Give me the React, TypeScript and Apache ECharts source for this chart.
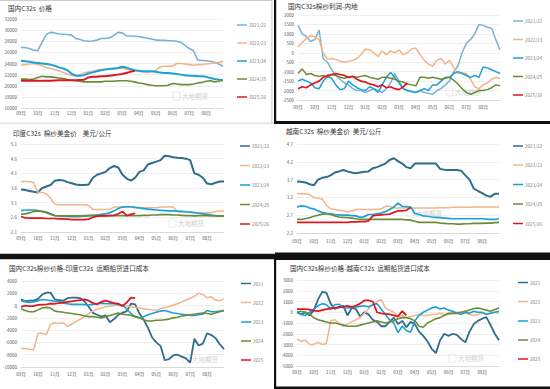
import React, { useEffect, useRef } from "react";
import * as echarts from "echarts";

const MONTHS = ["09月", "10月", "11月", "12月", "01月", "02月", "03月", "04月", "05月", "06月", "07月", "08月"];
const SEASONS = ["2021/22", "2022/23", "2023/24", "2024/25", "2025/26"];
const YEARS = ["2021", "2022", "2023", "2024", "2025"];

// Panel 1: 国内C32s 价格 (quarter-month steps from 09月)
const p1_2122 = [26900, 26850, 26700, 26400, 26300, 27800, 29200, 29600, 29500, 29300, 29250, 29200, 29100, 28500, 28300, 28100, 28000, 28050, 28200, 28500, 28500, 28600, 29000, 29600, 29500, 29000, 28950, 28900, 28850, 28700, 28550, 28400, 28250, 28150, 28150, 28100, 28100, 28000, 27800, 27200, 26700, 26300, 24600, 24550, 24500, 24400, 24200, 23900, 23500];
const p1_2223 = [23700, 23800, 23900, 24000, 23800, 23600, 23300, 23100, 22900, 22700, 22400, 22100, 21900, 21800, 22000, 22300, 22500, 22600, 22800, 22900, 23000, 23000, 23000, 23100, 23100, 23000, 22800, 22700, 22600, 22500, 22400, 22500, 22700, 23400, 23500, 23500, 23500, 24000, 24000, 23900, 23800, 23700, 23800, 23800, 23900, 24000, 24100, 24200, 24400];
const p1_2324 = [24500, 24400, 24300, 24200, 24100, 24000, 23900, 23800, 23600, 23300, 23100, 22800, 22200, 21800, 21800, 21900, 22200, 22400, 22600, 22800, 22900, 23000, 23100, 23200, 23400, 23300, 23000, 22800, 22700, 22600, 22600, 22600, 22500, 22400, 22300, 22300, 22200, 22100, 22000, 21900, 21800, 21800, 21700, 21700, 21600, 21400, 21200, 21100, 21000];
const p1_2425 = [21200, 21200, 21100, 21200, 21500, 21700, 21600, 21600, 21500, 21400, 21300, 21100, 21000, 20900, 20800, 20700, 20700, 20700, 20700, 20700, 20800, 20800, 20800, 20900, 20900, 20900, 20800, 20700, 20500, 20400, 20200, 20100, 20000, 20000, 20000, 20100, 20400, 20300, 20200, 20200, 20200, 20300, 20500, 20600, 20800, 20900, 20700, 20800, 21000];
const p1_2526 = [20900, 20900, 20900, 20900, 20900, 20900, 20900, 20900, 20950, 21000, 21000, 21000, 21000, 21000, 21050, 21100, 21500, 21600, 21600, 21700, 21700, 21800, 21900, 22000, 22100, 22300, 22500, 22700];

// Panel 2: 国内C32s棉纱利润-内地
const p2_2122 = [1450, 1000, 850, 600, 700, 1200, -300, -500, -900, -1200, -1400, -1600, -1700, -1900, -2000, -2000, -2100, -2000, -1900, -2000, -2100, -1900, -1600, -1100, -1500, -1900, -2000, -2050, -2100, -2000, -2100, -2150, -2200, -2000, -1900, -1700, -1500, -1000, -700, 0, 500, 700, 1000, 1500, 1450, 1350, 1300, 700, 150];
const p2_2223 = [300, 550, 750, 900, 850, 700, 0, -350, -300, -350, -450, -500, -450, -400, -300, -100, 200, 150, 0, -200, 100, -100, 100, 0, 150, -100, 0, 200, 250, -100, -400, -600, -700, -400, -300, -600, -400, -800, -1100, -1050, -1100, -1400, -1800, -1900, -1700, -1600, -1400, -1300, -1350];
const p2_2324 = [-1500, -1400, -1500, -1600, -1850, -1900, -1500, -1250, -1350, -1700, -1950, -1900, -1500, -1700, -1850, -1950, -2000, -1800, -1900, -2100, -1700, -1300, -1050, -1300, -1600, -1900, -2000, -2050, -2100, -2000, -1900, -2000, -1700, -1700, -1500, -1300, -1300, -1100, -1000, -1100, -1200, -1300, -1200, -1300, -750, -800, -900, -1000, -1100];
const p2_2425 = [-1100, -850, -1150, -1100, -1200, -1250, -1200, -1300, -1150, -1200, -1300, -1350, -1300, -1250, -1300, -1250, -1200, -1300, -1350, -1400, -1300, -1300, -1350, -1400, -1500, -1550, -1650, -1700, -1750, -1300, -1300, -1350, -1300, -1350, -1400, -1350, -1300, -1450, -1650, -1900, -2100, -2200, -2100, -2000, -2000, -1950, -1850, -1700, -1750];
const p2_2526 = [-1900, -1800, -1850, -1700, -1600, -1500, -1300, -1200, -1150, -1100, -1150, -1200, -1300, -1250, -1400, -1500, -1550, -1650, -1700, -1800, -1700, -1850, -1800, -1900, -1950, -1800, -1600];

// Panel 3: 印度C32s 棉纱美金价 美元/公斤
const p3_2122 = [3.55, 3.53, 3.5, 3.47, 3.45, 3.6, 3.65, 3.7, 3.85, 3.87, 3.86, 3.8, 3.76, 3.72, 3.7, 3.7, 3.72, 3.95, 4.05, 4.1, 4.15, 4.28, 4.35, 4.3, 4.05, 3.92, 3.85, 3.95, 4.15, 4.2, 4.4, 4.45, 4.5, 4.55, 4.7, 4.68, 4.65, 4.63, 4.62, 4.6, 4.55, 4.1, 4.05, 3.95, 3.75, 3.73, 3.78, 3.82, 3.82];
const p3_2223 = [3.82, 3.82, 3.82, 3.78, 3.45, 3.45, 3.4, 3.25, 3.05, 3.03, 3.03, 3.03, 3.03, 3.03, 3.03, 3.03, 3.0, 2.87, 2.87, 2.87, 2.87, 2.87, 2.95, 2.95, 2.95, 2.95, 2.95, 2.93, 2.93, 2.93, 2.93, 2.93, 2.93, 2.95, 2.95, 2.95, 2.95, 2.78, 2.78, 2.78, 2.78, 2.76, 2.76, 2.76, 2.76, 2.76, 2.8, 2.82, 2.82];
const p3_2324 = [2.83, 2.85, 2.85, 2.85, 2.83, 2.8, 2.78, 2.72, 2.66, 2.65, 2.64, 2.63, 2.62, 2.62, 2.63, 2.64, 2.66, 2.68, 2.68, 2.7, 2.72, 2.76, 2.82, 2.9, 2.95, 2.96, 2.96, 2.94, 2.92, 2.9, 2.88, 2.86, 2.85, 2.84, 2.83, 2.82, 2.82, 2.81, 2.8, 2.79, 2.78, 2.76, 2.74, 2.72, 2.7, 2.68, 2.66, 2.65, 2.65];
const p3_2425 = [2.7, 2.72, 2.75, 2.8, 2.82, 2.8, 2.76, 2.7, 2.66, 2.65, 2.65, 2.65, 2.65, 2.65, 2.65, 2.66, 2.66, 2.65, 2.65, 2.66, 2.66, 2.66, 2.66, 2.66, 2.66, 2.66, 2.66, 2.66, 2.66, 2.67, 2.67, 2.68, 2.68, 2.69, 2.69, 2.69, 2.68, 2.68, 2.67, 2.66, 2.66, 2.65, 2.66, 2.66, 2.66, 2.65, 2.65, 2.64, 2.64];
const p3_2526 = [2.63, 2.58, 2.57, 2.57, 2.57, 2.57, 2.56, 2.56, 2.56, 2.55, 2.55, 2.54, 2.52, 2.52, 2.52, 2.52, 2.54, 2.6, 2.64, 2.65, 2.65, 2.66, 2.67, 2.72, 2.8, 2.66, 2.7, 2.74];

// Panel 4: 越南C32s 棉纱美金价 美元/公斤
const p4_2122 = [3.65, 3.64, 3.62, 3.57, 3.54, 3.7, 3.75, 3.77, 3.82, 3.9, 3.93, 3.97, 3.93, 3.9, 3.88, 3.9, 3.92, 3.93, 4.02, 4.05, 4.1, 4.15, 4.25, 4.3, 4.22, 4.15, 4.05, 4.02, 4.15, 4.15, 4.15, 4.15, 4.15, 4.15, 4.0, 3.98, 3.97, 3.97, 3.97, 3.95, 3.82, 3.7, 3.45, 3.38, 3.32, 3.25, 3.22, 3.3, 3.3];
const p4_2223 = [3.3, 3.3, 3.3, 3.28, 3.2, 3.18, 3.15, 2.98, 2.88, 2.86, 2.84, 2.82, 2.8, 2.82, 2.86, 2.86, 2.86, 2.86, 2.86, 2.86, 2.88, 2.95, 2.95, 2.9, 2.9, 2.9, 2.9, 2.9, 2.9, 2.9, 2.9, 2.9, 2.9, 2.9, 2.91, 2.91, 2.91, 2.92, 2.92, 2.92, 2.92, 2.92, 2.93, 2.93, 2.93, 2.93, 2.93, 2.93, 2.93];
const p4_2324 = [2.93, 2.96, 2.95, 2.9, 2.88, 2.82, 2.78, 2.75, 2.74, 2.72, 2.71, 2.7, 2.7, 2.69, 2.68, 2.64, 2.66, 2.72, 2.72, 2.74, 2.76, 2.8, 2.86, 2.93, 3.04, 2.95, 2.94, 2.93, 2.75, 2.72, 2.68, 2.67, 2.65, 2.64, 2.63, 2.62, 2.61, 2.6, 2.6, 2.6, 2.6, 2.6, 2.6, 2.6, 2.6, 2.59, 2.58, 2.58, 2.6];
const p4_2425 = [2.58, 2.58, 2.6, 2.63, 2.67, 2.7, 2.73, 2.74, 2.72, 2.68, 2.65, 2.64, 2.63, 2.62, 2.6, 2.58, 2.58, 2.58, 2.58, 2.58, 2.58, 2.58, 2.58, 2.58, 2.58, 2.58, 2.57, 2.56, 2.53, 2.5, 2.5, 2.5, 2.5, 2.5, 2.48, 2.47, 2.46, 2.46, 2.45, 2.45, 2.46, 2.46, 2.47, 2.47, 2.47, 2.48, 2.48, 2.49, 2.5];
const p4_2526 = [2.5, 2.5, 2.5, 2.5, 2.5, 2.5, 2.5, 2.5, 2.5, 2.5, 2.5, 2.5, 2.5, 2.51, 2.51, 2.52, 2.52, 2.54, 2.68, 2.7, 2.71, 2.72, 2.73, 2.78, 2.82, 2.82, 2.84, 2.92];

// Panel 5: 国内C32s棉纱价格-印度C32s 远期船货进口成本
const p5_2021 = [1000, 700, 800, 800, 1100, 1800, 2100, 2100, 1000, 900, 800, 1200, 1300, 1300, 1200, 700, -200, -1200, -1500, -1800, -1600, -2700, -2200, -1500, -1200, -900, 300, 200, -1300, -2300, -3600, -5200, -6000, -6600, -8900, -8700, -8100, -8000, -8300, -8600, -9300, -5400, -6500, -6200, -4500, -4800, -5300, -6300, -7100];
const p5_2022 = [-7000, -7000, -7100, -7200, -4500, -4500, -4700, -3000, -2800, -2900, -2800, -3400, -3000, -2600, -2200, -1800, -1300, -900, -600, -400, -200, -100, 0, 100, 0, -100, -200, -300, -400, -500, -600, -700, -800, -500, -300, -200, 100, 300, 600, 900, 1200, 1500, 2000, 1800, 1300, 1400, 900, 800, 1100];
const p5_2023 = [800, 600, 500, 600, 800, 1000, 900, 800, 700, 700, 400, 300, 200, 200, 200, 150, 100, 200, 300, 400, 300, 300, 300, 200, 100, -600, -1300, -1800, -2000, -1800, -1500, -1300, -1100, -900, -800, -1000, -1200, -1300, -1400, -1500, -1600, -1600, -1500, -1400, -800, -1000, -1000, -900, -800];
const p5_2024 = [-500, -800, -1000, -1000, -700, -400, -300, -400, -900, -1000, -1100, -1200, -1300, -1400, -1500, -1700, -1800, -1800, -1900, -2000, -1800, -1600, -1400, -1200, -1400, -1500, -1600, -1800, -2000, -2300, -2500, -2500, -2400, -2400, -2300, -2200, -2000, -1900, -1700, -1600, -1500, -1400, -1300, -1200, -1300, -1400, -1200, -1000, -800];
const p5_2025 = [-200, 0, -100, -100, 100, 150, 200, 300, 300, 400, 500, 600, 700, 800, 900, 1000, 800, 400, 200, 600, 800, 600, 400, 300, -100, 500, 1300, 1200];

// Panel 6: 国内C32s棉纱价格-越南C32s 远期船货进口成本
const p6_2021 = [0, -200, 0, -300, 200, 1200, 1900, 1800, 800, 300, 500, 600, -300, 400, 300, -400, 0, -200, -700, -900, -1300, -1300, -900, -500, -1100, -800, -1400, -900, -1100, -1800, -2200, -2700, -3400, -3800, -2600, -2000, -2200, -2000, -2100, -2500, -2800, -1800, -1100, -800, -600, -450, -1200, -2000, -2600];
const p6_2022 = [-2500, -2700, -2600, -3000, -3000, -2800, -3000, -2900, -800, -700, -1000, -1300, -1100, -900, -700, -500, -100, 300, 700, 1000, 1200, 400, 200, 0, -400, -300, -500, -400, -300, -200, -300, -300, -200, -200, -100, -200, -200, -100, 0, 0, -100, -200, -300, -200, -100, -200, -100, 0, -100];
const p6_2023 = [0, -200, -300, 0, 300, 600, 800, 700, 300, 700, 750, 400, 400, 450, 500, 550, 600, 500, 700, 800, 300, -200, -700, -1000, -1900, -1300, -1700, -1850, -800, -300, 0, 200, 400, 500, 300, 400, 200, 100, -100, -200, 0, -100, 100, 0, 0, -200, -100, 0, 100];
const p6_2024 = [0, 100, 0, -200, -500, -700, -800, -900, -1000, -1000, -1100, -1200, -1300, -1300, -1300, -1200, -1100, -1000, -900, -800, -900, -1000, -900, -800, -600, -500, -500, -600, -800, -1300, -1400, -1000, -800, -600, -500, -300, -100, -100, -100, 0, 100, 200, 350, 400, 300, 200, 100, 250, 400];
const p6_2025 = [300, 300, 300, 250, 150, 100, 200, 300, 350, 400, 450, 500, 600, 500, 600, 800, 1100, 1100, 1000, 0, -100, -150, -200, -300, -400, 100, -300];

const C_LB = "#78B3D6";
const C_DT = "#2E6D8D";
const C_OR = "#F4B48A";
const C_CY = "#1BA1DA";
const C_GR = "#6B8C36";
const C_RD = "#E0161E";
const FONT = "'Noto Sans CJK SC', 'Noto Sans', sans-serif";

type Panel = {
  title: string;
  tx: number; ty: number;
  grid: { left: number; top: number; width: number; height: number };
  y: { min: number; max: number; interval: number; dec?: boolean };
  xMargin: number;
  names: string[];
  colors: string[];
  widths: number[];
  data: number[][];
  legend: { x: number; ys: number[] };
  mark: { x: number; y: number };
};

const panels: Panel[] = [
  {
    title: "国内C32s  价格", tx: 8, ty: 8,
    grid: { left: 21, top: 19, width: 202, height: 89 },
    y: { min: 16000, max: 32000, interval: 2000 }, xMargin: 3,
    names: SEASONS, colors: [C_LB, C_OR, C_CY, C_GR, C_RD], widths: [1.6, 1.6, 2, 1.6, 2],
    data: [p1_2122, p1_2223, p1_2324, p1_2425, p1_2526],
    legend: { x: 237, ys: [25, 43, 61, 79, 97] }, mark: { x: 182, y: 96 },
  },
  {
    title: "国内C32s棉纱利润-内地", tx: 288, ty: 6,
    grid: { left: 298, top: 15, width: 202, height: 85 },
    y: { min: -2500, max: 2000, interval: 500 }, xMargin: 5,
    names: SEASONS, colors: [C_LB, C_OR, C_CY, C_GR, C_RD], widths: [1.5, 1.5, 1.5, 1.5, 1.7],
    data: [p2_2122, p2_2223, p2_2324, p2_2425, p2_2526],
    legend: { x: 513, ys: [21, 39.5, 58, 76.5, 95] }, mark: { x: 455, y: 92 },
  },
  {
    title: "印度C32s  棉纱美金价    美元/公斤", tx: 13, ty: 133,
    grid: { left: 21, top: 144, width: 203, height: 88 },
    y: { min: 2.1, max: 5.1, interval: 0.5, dec: true }, xMargin: 4,
    names: SEASONS, colors: [C_DT, C_OR, C_CY, C_GR, C_RD], widths: [2, 1.5, 1.7, 1.7, 1.7],
    data: [p3_2122, p3_2223, p3_2324, p3_2425, p3_2526],
    legend: { x: 240, ys: [146, 165.5, 185, 204.5, 224] }, mark: { x: 178, y: 223 },
  },
  {
    title: "越南C32s  棉纱美金价  美元/公斤", tx: 286, ty: 131,
    grid: { left: 297, top: 144, width: 202, height: 89 },
    y: { min: 2.2, max: 4.7, interval: 0.5, dec: true }, xMargin: 6,
    names: SEASONS, colors: [C_DT, C_OR, C_CY, C_GR, C_RD], widths: [2, 1.5, 1.7, 1.7, 1.7],
    data: [p4_2122, p4_2223, p4_2324, p4_2425, p4_2526],
    legend: { x: 513, ys: [146, 165, 184.5, 204, 223.5] }, mark: { x: 416, y: 213 },
  },
  {
    title: "国内C32s棉纱价格-印度C32s  远期船货进口成本", tx: 9, ty: 268,
    grid: { left: 21, top: 281, width: 203, height: 86 },
    y: { min: -10000, max: 4000, interval: 2000 }, xMargin: 5,
    names: YEARS, colors: [C_DT, C_OR, C_CY, C_GR, C_RD], widths: [1.8, 1.5, 1.6, 1.6, 1.8],
    data: [p5_2021, p5_2022, p5_2023, p5_2024, p5_2025],
    legend: { x: 241, ys: [283.5, 302.5, 322, 341, 360] }, mark: { x: 192, y: 359 },
  },
  {
    title: "国内C32s棉纱价格-越南C32s  远期船货进口成本", tx: 290, ty: 268,
    grid: { left: 297, top: 280, width: 202, height: 86 },
    y: { min: -5000, max: 3000, interval: 1000 }, xMargin: 4,
    names: YEARS, colors: [C_DT, C_OR, C_CY, C_GR, C_RD], widths: [1.8, 1.5, 1.6, 1.6, 1.8],
    data: [p6_2021, p6_2022, p6_2023, p6_2024, p6_2025],
    legend: { x: 518, ys: [282.5, 301.5, 321, 340, 359] }, mark: { x: 458, y: 358 },
  },
];

const toPairs = (vals: number[]) => vals.map((v, i) => [i, v]);

export default function App() {
  const ref = useRef<HTMLDivElement>(null);
  useEffect(() => {
    if (!ref.current) return;
    const chart = echarts.init(ref.current, undefined, { renderer: "svg" });
    const grids: any[] = [];
    const xAxes: any[] = [];
    const yAxes: any[] = [];
    const series: any[] = [];
    const graphics: any[] = [];

    panels.forEach((p, pi) => {
      grids.push({ ...p.grid, containLabel: false });
      xAxes.push({
        type: "value", gridIndex: pi, min: 0, max: 48, interval: 4,
        axisLine: { show: true, onZero: false, lineStyle: { color: "#d4d4d4", width: 0.8 } },
        axisTick: { show: false },
        splitLine: { show: false },
        axisLabel: {
          fontSize: 4.5, color: "#595959", fontFamily: FONT, margin: p.xMargin,
          formatter: (v: number) => (v < 48 && v % 4 === 0 ? MONTHS[v / 4] : ""),
        },
      });
      yAxes.push({
        type: "value", gridIndex: pi, min: p.y.min, max: p.y.max, interval: p.y.interval,
        axisLine: { show: false }, axisTick: { show: false },
        splitLine: { show: true, lineStyle: { color: "#e4e4e4", width: 0.6 } },
        axisLabel: {
          fontSize: 4.5, color: "#595959", fontFamily: FONT, margin: 4,
          formatter: (v: number) => (p.y.dec ? v.toFixed(1) : String(Math.round(v))),
        },
      });
      p.names.forEach((n, si) => {
        series.push({
          type: "line", name: n, xAxisIndex: pi, yAxisIndex: pi,
          data: toPairs(p.data[si]), showSymbol: false, symbol: "none",
          lineStyle: { color: p.colors[si], width: p.widths[si] },
          itemStyle: { color: p.colors[si] },
          z: 2 + si,
        });
        graphics.push({
          type: "line", shape: { x1: p.legend.x, y1: p.legend.ys[si], x2: p.legend.x + 10, y2: p.legend.ys[si] },
          style: { stroke: p.colors[si], lineWidth: 1.5 },
        });
        graphics.push({
          type: "text", x: p.legend.x + 12, y: p.legend.ys[si],
          style: { text: n, fontSize: 4.6, fill: "#7f7f7f", fontFamily: FONT, verticalAlign: "middle", align: "left" },
        });
      });
      graphics.push({
        type: "text", x: p.tx, y: p.ty,
        style: { text: p.title, fontSize: 6.6, fill: "#333333", fontFamily: FONT, verticalAlign: "middle", align: "left" },
      });
      graphics.push({
        type: "rect", shape: { x: p.mark.x - 9, y: p.mark.y - 4, width: 7, height: 8, r: 1 },
        style: { fill: "none", stroke: "#d8d8d8", lineWidth: 0.6 }, z: 1,
      });
      graphics.push({
        type: "text", x: p.mark.x, y: p.mark.y,
        style: { text: "大地期货", fontSize: 6.5, fill: "#d2d2d2", fontFamily: FONT, verticalAlign: "middle", align: "left" }, z: 1,
      });
    });

    // frames
    const frames = [
      { x: 0, y: 0, width: 272, height: 0.8, fill: "#bdbdbd" },
      { x: 271.5, y: 0, width: 0.8, height: 123, fill: "#bdbdbd" },
      { x: 0, y: 122.8, width: 275, height: 0.8, fill: "#c8c8c8" },
      { x: 274, y: 0, width: 2.2, height: 124, fill: "#111111" },
      { x: 274, y: 121, width: 276, height: 3, fill: "#111111" },
      { x: 0, y: 253.7, width: 276, height: 5.6, fill: "#111111" },
      { x: 275, y: 252.5, width: 275, height: 7.5, fill: "#111111" },
      { x: 274, y: 259, width: 2.2, height: 130, fill: "#111111" },
      { x: 274, y: 386.5, width: 276, height: 2.5, fill: "#111111" },
    ];
    frames.forEach((f) => {
      graphics.push({ type: "rect", shape: { x: f.x, y: f.y, width: f.width, height: f.height }, style: { fill: f.fill }, z: 10 });
    });

    chart.setOption({
      animation: false,
      backgroundColor: "#ffffff",
      grid: grids,
      xAxis: xAxes,
      yAxis: yAxes,
      series,
      graphic: { elements: graphics },
    });
    return () => chart.dispose();
  }, []);
  return <div ref={ref} style={{ position: "fixed", left: 0, top: 0, width: 550, height: 389 }} />;
}
